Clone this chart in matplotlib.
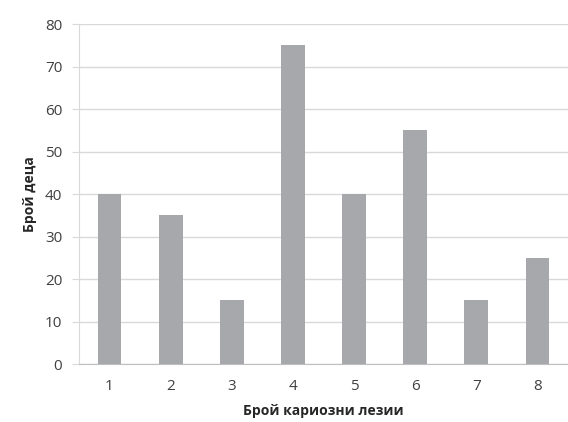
import matplotlib
matplotlib.use("Agg")
import matplotlib.pyplot as plt

categories = ["1", "2", "3", "4", "5", "6", "7", "8"]
values = [40, 35, 15, 75, 40, 55, 15, 25]
yticks = [0, 10, 20, 30, 40, 50, 60, 70, 80]

plt.rcParams['font.family'] = ['Open Sans', 'DejaVu Sans']

fig = plt.figure(figsize=(5.68, 4.22), dpi=100)
ax = fig.add_axes([0.139, 0.137, 0.861, 0.806])

x = list(range(len(categories)))
ax.bar(x, values, width=0.39, color="#a6a8ab", zorder=3)
ax.set_xlim(-0.5, len(categories) - 0.5)
ax.set_ylim(0, 80)
ax.set_yticks(yticks)
ax.set_xticks(x)
ax.set_xticklabels(categories)
ax.grid(axis='y', color="#d9d9d9", linewidth=1, zorder=0)
for s in ['top', 'right']:
    ax.spines[s].set_visible(False)
ax.spines['left'].set_color("#d9d9d9")
ax.spines['bottom'].set_color("#bfbfbf")
ax.tick_params(axis='y', length=5, color="#d9d9d9", labelsize=11, labelcolor="#404040", pad=7)
ax.tick_params(axis='x', length=0, labelsize=11, labelcolor="#404040", pad=11)
ax.set_xlabel("Брой кариозни лезии", fontsize=10, fontweight='bold', color="#262626", labelpad=7)
ax.set_ylabel("Брой деца", fontsize=10, fontweight='bold', color="#262626", labelpad=6)

fig.savefig("out.png", dpi=100, facecolor="white")
